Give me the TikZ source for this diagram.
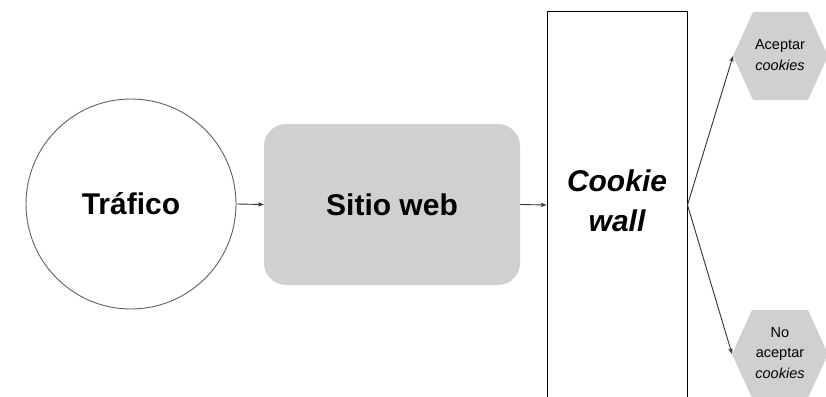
\documentclass[tikz,border=0pt]{standalone}
\usepackage{fontspec}
\setmainfont{Liberation Sans}
\usetikzlibrary{arrows.meta}
\definecolor{boxgray}{HTML}{D0D0D0}
\definecolor{linegray}{HTML}{606060}
\begin{document}
\begin{tikzpicture}[x=1pt,y=-1pt,
  big/.style={font=\fontsize{30}{40}\selectfont\bfseries, align=center},
  small/.style={font=\fontsize{14.5}{20.5}\selectfont, align=center},
  conn/.style={draw=black!80, line width=0.9pt, -{Stealth[length=6pt,width=4.5pt]}},
  hex/.style={fill=boxgray, draw=none}]
\useasboundingbox (0,0) rectangle (826,396);
\node[draw=linegray, line width=0.9pt, circle, minimum size=210pt, inner sep=0pt, big] (traffic) at (131,204) {Tráfico};
\node[fill=boxgray, rounded corners=22pt, minimum width=256pt, minimum height=161pt, inner sep=0pt, big] (site) at (392,204.5) {Sitio web};
\node[draw=black, line width=1pt, minimum width=140pt, minimum height=386pt, inner sep=0pt] (wall) at (617,205) {};
\node[big] (walltext) at (617,201) {\itshape Cookie\\\itshape wall};
\fill[hex] (733,56) coordinate (hexAin) -- (753,12) -- (808,12) -- (828,56) -- (808,100) -- (753,100) -- cycle;
\node[small] (hexA) at (780,55) {Aceptar\\\textit{cookies}};
\fill[hex] (732,354) coordinate (hexBin) -- (752,310) -- (808,310) -- (828,354) -- (808,398) -- (752,398) -- cycle;
\node[small] (hexB) at (780,353) {No\\aceptar\\\textit{cookies}};
\draw[conn] (traffic.east) -- (site.west);
\draw[conn] (site.east) -- (wall.west);
\draw[conn] (wall.east) -- (hexAin);
\draw[conn] (wall.east) -- (hexBin);
\end{tikzpicture}
\end{document}
